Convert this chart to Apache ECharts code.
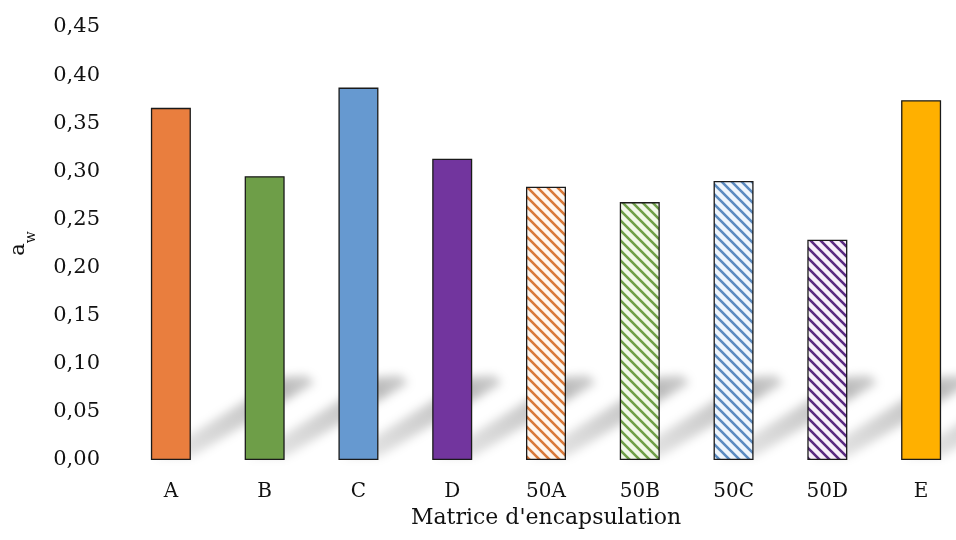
<!DOCTYPE html>
<html>
<head>
<meta charset="utf-8">
<script src="https://cdn.jsdelivr.net/npm/echarts@6/dist/echarts.min.js"></script>
<style>html,body{margin:0;padding:0;background:#fff}#c{width:956px;height:540px}</style>
</head>
<body>
<div id="c"></div>
<script>
// ---- data ----
const categories = ['A', 'B', 'C', 'D', '50A', '50B', '50C', '50D', 'E'];
const awValues = [0.366, 0.295, 0.387, 0.313, 0.284, 0.268, 0.290, 0.229, 0.374];
const yTicks = { min: 0, max: 0.45, interval: 0.05 };

// ---- styles ----
const FONT = 'DejaVu Serif';
function hatch(bg, fg) {
  const c = document.createElement('canvas');
  c.width = 10; c.height = 10;
  const g = c.getContext('2d');
  g.fillStyle = bg; g.fillRect(0, 0, 10, 10);
  g.strokeStyle = fg; g.lineWidth = 2.6;
  g.beginPath();
  [-10, 0, 10].forEach(k => { g.moveTo(k - 2, -2); g.lineTo(k + 12, 12); });
  g.stroke();
  return { image: c, repeat: 'repeat' };
}
const fills = [
  '#E97E3E', '#6E9E48', '#6699D0', '#72359E',
  hatch('#FFF7EF', '#D9793A'), hatch('#F1F8E9', '#6E9E48'),
  hatch('#EEF5FC', '#5A8AC0'), hatch('#F7EFF9', '#5A2A80'),
  '#FFB000'
];

const chart = echarts.init(document.getElementById('c'));
const BAR_W = 40;
const OFF = 3000; // draw shape off-canvas, keep only its blurred shadow

function renderShadow(params, api) {
  const base = api.coord([api.value(0), 0]);
  const xl = base[0] - BAR_W / 2, xr = base[0] + BAR_W / 2, y0 = base[1] - 3;
  const dx = 124, dy = -78;
  const pts = [
    [xl + 4, y0], [xr, y0],
    [xr + dx, y0 + dy + 4], [xr + dx - 8, y0 + dy - 4],
    [xl + dx + 8, y0 + dy - 2]
  ].map(p => [p[0] - OFF, p[1]]);
  return {
    type: 'polygon',
    shape: { points: pts },
    style: {
      fill: new echarts.graphic.LinearGradient(xr - OFF, y0, xr + dx - OFF, y0 + dy, [
        { offset: 0, color: 'rgba(0,0,0,0.3)' },
        { offset: 0.8, color: 'rgba(0,0,0,0.65)' },
        { offset: 1, color: 'rgba(0,0,0,0.45)' }
      ], true),
      shadowBlur: 10,
      shadowOffsetX: OFF,
      shadowColor: 'rgba(0,0,0,0.4)'
    }
  };
}

chart.setOption({
  animation: false,
  backgroundColor: '#fff',
  grid: { left: 124, right: -12, top: 27, bottom: 80, outerBoundsMode: 'none', containLabel: false },
  xAxis: {
    type: 'category',
    data: categories,
    axisLine: { show: false },
    axisTick: { show: false },
    axisLabel: { color: '#111', fontFamily: FONT, fontSize: 20, margin: 22 },
    name: "Matrice d'encapsulation",
    nameLocation: 'middle',
    nameGap: 43,
    nameTextStyle: { color: '#111', fontFamily: FONT, fontSize: 22, verticalAlign: 'top' }
  },
  yAxis: {
    type: 'value',
    min: yTicks.min, max: yTicks.max, interval: yTicks.interval,
    axisLine: { show: false },
    axisTick: { show: false },
    splitLine: { show: false },
    axisLabel: {
      color: '#111', fontFamily: FONT, fontSize: 21, margin: 24,
      formatter: v => v.toFixed(2).replace('.', ',')
    },
    name: '{a|a}{w|w}',
    nameLocation: 'middle',
    nameGap: 86,
    nameTextStyle: {
      color: '#111', fontFamily: FONT,
      rich: {
        a: { fontFamily: FONT, fontSize: 21, color: '#111', lineHeight: 30, verticalAlign: 'top' },
        w: { fontFamily: FONT, fontSize: 14, color: '#111', lineHeight: 30, verticalAlign: 'bottom' }
      }
    }
  },
  series: [
    {
      type: 'custom',
      renderItem: renderShadow,
      data: categories.map((c, i) => [i]),
      encode: { x: 0 },
      silent: true,
      clip: false,
      z: 1
    },
    {
      type: 'bar',
      barWidth: BAR_W,
      z: 2,
      data: awValues.map((v, i) => ({
        value: v,
        itemStyle: { color: fills[i], borderColor: '#1a1a1a', borderWidth: 1.3 }
      }))
    }
  ]
});
</script>
</body>
</html>
